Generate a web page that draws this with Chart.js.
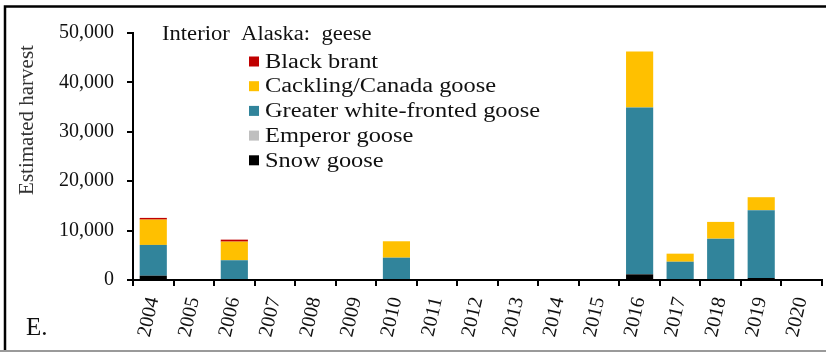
<!DOCTYPE html>
<html>
<head>
<meta charset="utf-8">
<script src="https://cdn.jsdelivr.net/npm/chart.js@4/dist/chart.umd.min.js"></script>
<style>
  html, body { margin: 0; padding: 0; background: #fff; }
  #wrap { width: 826px; height: 354px; }
</style>
</head>
<body>
<div id="wrap"><canvas id="geese_chart" width="826" height="354"></canvas></div>
<script>
const years = ['2004','2005','2006','2007','2008','2009','2010','2011','2012','2013','2014','2015','2016','2017','2018','2019','2020'];
// stacked bottom -> top
const snowGoose     = [870, null, 0, null, null, null, 0, null, null, null, null, null, 1150, 0, 0, 400, null];
const emperorGoose  = [0, null, 0, null, null, null, 0, null, null, null, null, null, 0, 0, 0, 0, null];
const whiteFronted  = [6230, null, 4000, null, null, null, 4520, null, null, null, null, null, 33780, 3700, 8370, 13730, null];
const cacklingCanada = [5130, null, 3770, null, null, null, 3320, null, null, null, null, null, 11340, 1630, 3390, 2630, null];
const blackBrant    = [340, null, 400, null, null, null, 0, null, null, null, null, null, 0, 0, 0, 0, null];
const yTicks = [0, 10000, 20000, 30000, 40000, 50000];

const serif = '"Liberation Serif", "Times New Roman", serif';

// text in the original figure is a bit stretched sideways
const wideText = (c, txt, x, y, sx) => {
  c.save();
  c.translate(x, y);
  c.scale(sx, 1);
  c.fillText(txt, 0, 0);
  c.restore();
};

const decor = {
  id: 'decor',
  beforeDraw(chart) {
    const c = chart.ctx;
    c.save();
    c.fillStyle = '#fff';
    c.fillRect(0, 0, chart.width, chart.height);
    c.restore();
  },
  afterDraw(chart) {
    const c = chart.ctx;
    c.save();
    // frame
    c.strokeStyle = '#000';
    c.lineWidth = 2.5;
    c.beginPath();
    c.moveTo(5, 350);
    c.lineTo(5, 6.5);
    c.lineTo(826, 6.5);
    c.stroke();
    c.strokeStyle = '#9a9a9a';
    c.lineWidth = 2;
    c.beginPath();
    c.moveTo(0, 351);
    c.lineTo(826, 351);
    c.stroke();

    // title
    c.fillStyle = '#111';
    c.font = '20px ' + serif;
    c.textBaseline = 'alphabetic';
    c.textAlign = 'left';
    wideText(c, 'Interior  Alaska:  geese', 162, 39.5, 1.13);

    // legend (top of stack first)
    c.font = '20px ' + serif;
    c.textBaseline = 'middle';
    const ds = chart.data.datasets.slice().reverse();
    ds.forEach((d, i) => {
      const y = 61.5 + i * 24.7;
      c.fillStyle = d.backgroundColor;
      c.fillRect(249, y - 5, 10, 10);
      c.fillStyle = '#111';
      wideText(c, d.label, 265, y + 1, 1.22);
    });

    // y axis title
    c.save();
    c.translate(27, 120);
    c.rotate(-Math.PI / 2);
    c.textAlign = 'center';
    c.textBaseline = 'middle';
    c.font = '21px ' + serif;
    c.fillStyle = '#333';
    c.fillText('Estimated harvest', 0, 0);
    c.restore();

    // panel letter
    c.font = '25px ' + serif;
    c.textBaseline = 'alphabetic';
    c.fillStyle = '#111';
    c.fillText('E.', 26, 335);
    c.restore();
  }
};

new Chart(document.getElementById('geese_chart'), {
  type: 'bar',
  data: {
    labels: years,
    datasets: [
      { label: 'Snow goose', data: snowGoose, backgroundColor: '#000000' },
      { label: 'Emperor goose', data: emperorGoose, backgroundColor: '#BFBFBF' },
      { label: 'Greater white-fronted goose', data: whiteFronted, backgroundColor: '#31849B' },
      { label: 'Cackling/Canada goose', data: cacklingCanada, backgroundColor: '#FFC000' },
      { label: 'Black brant', data: blackBrant, backgroundColor: '#C00000' }
    ]
  },
  options: {
    responsive: false,
    animation: false,
    layout: { padding: { top: 33, right: 4, left: 0, bottom: 0 } },
    datasets: { bar: { categoryPercentage: 1, barPercentage: 0.67, borderWidth: 0 } },
    plugins: { legend: { display: false }, tooltip: { enabled: false } },
    scales: {
      x: {
        stacked: true,
        afterFit: s => { s.height = 74; s.paddingLeft = 0; s.paddingRight = 0; },
        grid: { drawOnChartArea: false, offset: true, color: '#000', lineWidth: 2, tickLength: 6 },
        border: { color: '#000', width: 2 },
        ticks: {
          autoSkip: false, minRotation: 77, maxRotation: 77, padding: 9,
          color: '#111', font: { family: serif, size: 20 }
        }
      },
      y: {
        stacked: true,
        min: 0,
        max: 50000,
        afterFit: s => { s.width = 133; },
        grid: { drawOnChartArea: false, color: '#000', lineWidth: 2, tickLength: 6 },
        border: { color: '#000', width: 2 },
        ticks: {
          stepSize: 5000,
          padding: 13,
          color: '#111',
          font: { family: serif, size: 20 },
          callback: v => yTicks.includes(v) ? v.toLocaleString('en-US') : ''
        }
      }
    }
  },
  plugins: [decor]
});
</script>
</body>
</html>
